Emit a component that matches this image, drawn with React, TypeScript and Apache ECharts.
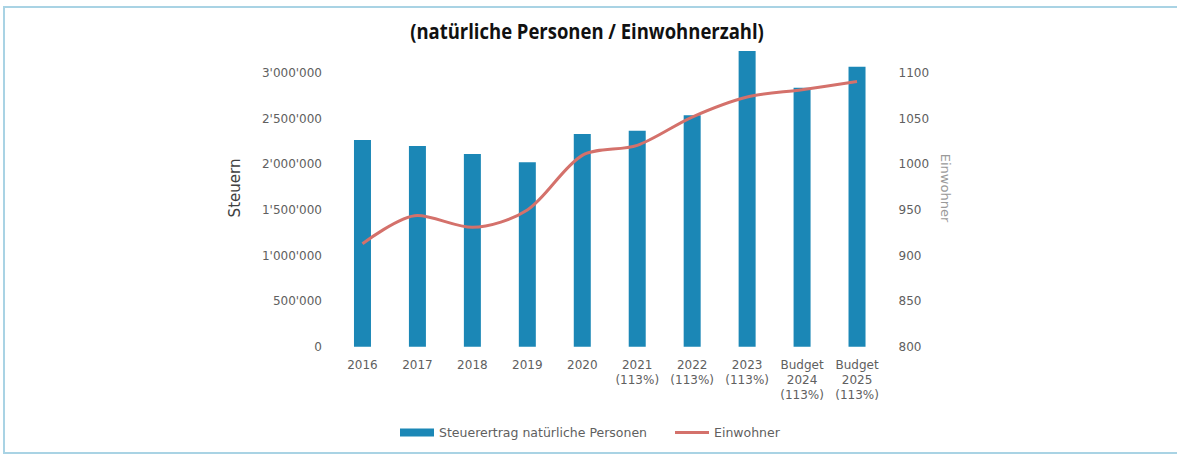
import React, { useEffect, useRef } from "react";
import * as echarts from "echarts";

const categories = [
  "2016",
  "2017",
  "2018",
  "2019",
  "2020",
  "2021\n(113%)",
  "2022\n(113%)",
  "2023\n(113%)",
  "Budget\n2024\n(113%)",
  "Budget\n2025\n(113%)",
];
const steuern = [2268000, 2203000, 2115000, 2024000, 2334000, 2370000, 2540000, 3245000, 2842000, 3073000];
const einwohner = [913, 944, 931, 950, 1010, 1021, 1052, 1074, 1082, 1091];

const leftTicks = { min: 0, max: 3300000, interval: 500000 };
const rightTicks = { min: 800, max: 1130, interval: 50 };

const fmt = (v: number) => String(v).replace(/\B(?=(\d{3})+(?!\d))/g, "'");

export default function App() {
  const ref = useRef<HTMLDivElement>(null);
  useEffect(() => {
    const chart = echarts.init(ref.current!, undefined, { renderer: "svg" });
    const font = "DejaVu Sans";
    chart.setOption({
      animation: false,
      backgroundColor: "#ffffff",
      graphic: [
        {
          type: "rect",
          shape: { x: 4, y: 7, width: 1190, height: 446 },
          style: { fill: "none", stroke: "#a9d3e4", lineWidth: 2 },
          silent: true,
        },
        {
          type: "text",
          x: 587,
          y: 31,
          scaleX: 0.88,
          style: {
            text: "(natürliche Personen / Einwohnerzahl)",
            fontFamily: "Open Sans, sans-serif",
            fontWeight: "bold",
            fontSize: 21,
            fill: "#111111",
            align: "center",
            verticalAlign: "middle",
          },
        },
        {
          type: "text",
          x: 235,
          y: 188,
          rotation: Math.PI / 2,
          style: {
            text: "Steuern",
            fontFamily: font,
            fontSize: 15,
            fill: "#404040",
            align: "center",
            verticalAlign: "middle",
          },
        },
        {
          type: "text",
          x: 945,
          y: 188,
          rotation: -Math.PI / 2,
          style: {
            text: "Einwohner",
            fontFamily: font,
            fontSize: 13,
            fill: "#9a9a9a",
            align: "center",
            verticalAlign: "middle",
          },
        },
      ],
      grid: { left: 335, right: 292.5, top: 46, bottom: 110.3, containLabel: false },
      legend: {
        bottom: 13,
        left: 395,
        itemGap: 28,
        itemWidth: 34,
        itemHeight: 8,
        textStyle: { fontFamily: font, fontSize: 12.5, color: "#606060" },
        data: [
          { name: "Steuerertrag natürliche Personen", icon: "rect" },
          { name: "Einwohner", icon: "path://M0,0L34,0L34,3L0,3Z" },
        ],
      },
      xAxis: {
        type: "category",
        data: categories,
        axisLine: { show: false },
        axisTick: { show: false },
        axisLabel: {
          interval: 0,
          fontFamily: font,
          fontSize: 12,
          color: "#606060",
          lineHeight: 15,
          margin: 11,
        },
      },
      yAxis: [
        {
          type: "value",
          min: leftTicks.min,
          max: leftTicks.max,
          interval: leftTicks.interval,
          splitLine: { show: false },
          axisLine: { show: false },
          axisTick: { show: false },
          axisLabel: {
            showMaxLabel: false,
            formatter: (v: number) => fmt(v),
            fontFamily: font,
            fontSize: 12,
            color: "#606060",
            margin: 13,
          },
        },
        {
          type: "value",
          position: "right",
          min: rightTicks.min,
          max: rightTicks.max,
          interval: rightTicks.interval,
          splitLine: { show: false },
          axisLine: { show: false },
          axisTick: { show: false },
          axisLabel: {
            showMaxLabel: false,
            formatter: (v: number) => String(v),
            fontFamily: font,
            fontSize: 12,
            color: "#606060",
            margin: 14,
          },
        },
      ],
      series: [
        {
          name: "Steuerertrag natürliche Personen",
          type: "bar",
          data: steuern,
          barWidth: 17,
          itemStyle: { color: "#1b87b6" },
        },
        {
          name: "Einwohner",
          type: "line",
          yAxisIndex: 1,
          data: einwohner,
          smooth: 0.3,
          symbol: "none",
          lineStyle: { color: "#d4716b", width: 3 },
          itemStyle: { color: "#d4716b" },
        },
      ],
    });
    return () => chart.dispose();
  }, []);
  return (
    <div
      ref={ref}
      style={{ position: "fixed", left: 0, top: 0, width: 1177, height: 457 }}
    />
  );
}
